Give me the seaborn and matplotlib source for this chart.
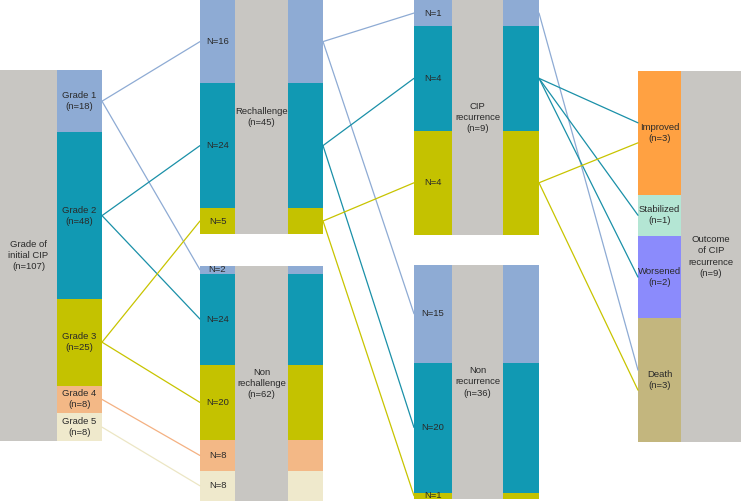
"""Flow of CIP grades through rechallenge, recurrence and outcome."""

import matplotlib
matplotlib.use("Agg")

import matplotlib.pyplot as plt
import pandas as pd
import seaborn as sns


# data
grades = ["Grade 1", "Grade 2", "Grade 3", "Grade 4", "Grade 5"]
initial_counts = [18, 48, 25, 8, 8]
rechallenge_counts = [16, 24, 5]
non_rechallenge_counts = [2, 24, 20, 8, 8]
recurrence_counts = [1, 4, 4]
non_recurrence_counts = [15, 20, 1]
outcomes = ["Improved", "Stabilized", "Worsened", "Death"]
outcome_counts = [3, 1, 2, 3]
outcome_links = [
    ("Grade 1", "Death"),
    ("Grade 2", "Improved"),
    ("Grade 2", "Stabilized"),
    ("Grade 2", "Worsened"),
    ("Grade 3", "Improved"),
    ("Grade 3", "Death"),
]

grade_colors = ["#8eabd4", "#1199b3", "#c4c200", "#f3b886", "#efe9cc"]
line_colors = ["#8eabd4", "#1a90a8", "#c8c400", "#f4b182", "#ece6c4"]
outcome_colors = ["#ffa142", "#b4e6d4", "#8b8bfc", "#c3b67e"]
GRAY = "#c8c6c2"
FONT = "Liberation Sans"
FS = 6.8


def stack(counts, y0, y1):
    """Return (top, height) for each segment of a stack spanning y0..y1."""
    total = sum(counts)
    scale = (y1 - y0) / total
    out, top = [], y0
    for c in counts:
        out.append((top, c * scale))
        top += c * scale
    return out


def draw_segments(ax, x0, x1, spans, colors):
    for (top, h), col in zip(spans, colors):
        ax.bar((x0 + x1) / 2, h, bottom=top, width=x1 - x0, color=col,
               linewidth=0)


def draw_gray(ax, x0, x1, y0, y1, label):
    ax.bar((x0 + x1) / 2, y1 - y0, bottom=y0, width=x1 - x0, color=GRAY,
           linewidth=0)
    ax.text((x0 + x1) / 2, (y0 + y1) / 2, label, ha="center", va="center",
            fontsize=FS, family=FONT, color="#2a2a2a", linespacing=1.3)


def seg_labels(ax, x0, x1, spans, labels):
    for (top, h), lab in zip(spans, labels):
        ax.text((x0 + x1) / 2, top + h / 2, lab, ha="center", va="center",
                fontsize=FS, family=FONT, color="#2a2a2a", linespacing=1.3)


sns.set_theme(style="white")
fig = plt.figure(figsize=(7.41, 5.04), dpi=100)
ax = fig.add_axes([0, 0, 1, 1])

# column 1: initial grade
init = stack(initial_counts, 70, 441)
draw_gray(ax, 0, 57, 70, 441, "Grade of\ninitial CIP\n(n=107)")
draw_segments(ax, 57, 102, init, grade_colors)
seg_labels(ax, 57, 102, init,
           [f"{g}\n(n={n})" for g, n in zip(grades, initial_counts)])

# column 2: rechallenge / non rechallenge
rech = stack(rechallenge_counts, 0, 234)
nonrech = stack(non_rechallenge_counts, 266, 501)
for spans, cols, y0, y1, lab in [
    (rech, grade_colors[:3], 0, 234, "Rechallenge\n(n=45)"),
    (nonrech, grade_colors, 266, 501, "Non\nrechallenge\n(n=62)"),
]:
    draw_segments(ax, 200, 235, spans, cols)
    draw_gray(ax, 235, 288, y0, y1, lab)
    draw_segments(ax, 288, 323, spans, cols)
seg_labels(ax, 200, 235, rech, [f"N={n}" for n in rechallenge_counts])
seg_labels(ax, 200, 235, nonrech, [f"N={n}" for n in non_rechallenge_counts])

# column 3: recurrence / non recurrence
rec = stack(recurrence_counts, 0, 235)
nonrec = stack(non_recurrence_counts, 265, 499)
for spans, y0, y1, lab in [
    (rec, 0, 235, "CIP\nrecurrence\n(n=9)"),
    (nonrec, 265, 499, "Non\nrecurrence\n(n=36)"),
]:
    draw_segments(ax, 414, 452, spans, grade_colors[:3])
    draw_gray(ax, 452, 503, y0, y1, lab)
    draw_segments(ax, 503, 539, spans, grade_colors[:3])
seg_labels(ax, 414, 452, rec, [f"N={n}" for n in recurrence_counts])
seg_labels(ax, 414, 452, nonrec, [f"N={n}" for n in non_recurrence_counts])

# column 4: outcome
outc = stack(outcome_counts, 71, 442)
draw_segments(ax, 638, 681, outc, outcome_colors)
draw_gray(ax, 681, 741, 71, 442, "Outcome\nof CIP\nrecurrence\n(n=9)")
seg_labels(ax, 638, 681, outc,
           [f"{o}\n(n={n})" for o, n in zip(outcomes, outcome_counts)])


def mid(spans, i):
    top, h = spans[i]
    return top + h / 2


# links
rows = []


def link(grade, xa, ya, xb, yb):
    k = len(rows) // 2
    rows.append({"link": k, "grade": grade, "x": xa, "y": ya})
    rows.append({"link": k, "grade": grade, "x": xb, "y": yb})


for i in range(3):
    link(grades[i], 102, mid(init, i), 200, mid(rech, i))
for i in range(5):
    link(grades[i], 102, mid(init, i), 200, mid(nonrech, i))
for i in range(3):
    link(grades[i], 323, mid(rech, i), 414, mid(rec, i))
    link(grades[i], 323, mid(rech, i), 414, mid(nonrec, i))

# spread several links that land in the same outcome segment
arrivals = {o: [g for g, t in outcome_links if t == o] for o in outcomes}
for g, o in outcome_links:
    j = outcomes.index(o)
    n = len(arrivals[o])
    pos = arrivals[o].index(g)
    y_end = mid(outc, j) + (pos - (n - 1) / 2) * 20
    link(g, 539, mid(rec, grades.index(g)), 638, y_end)

links = pd.DataFrame(rows)
sns.lineplot(data=links, x="x", y="y", units="link", estimator=None,
             hue="grade", palette=dict(zip(grades, line_colors)),
             linewidth=0.9, legend=False, sort=False, ax=ax)

ax.set_xlim(0, 741)
ax.set_ylim(504, 0)
ax.set_axis_off()
fig.savefig("out.png", dpi=100, facecolor="white")
